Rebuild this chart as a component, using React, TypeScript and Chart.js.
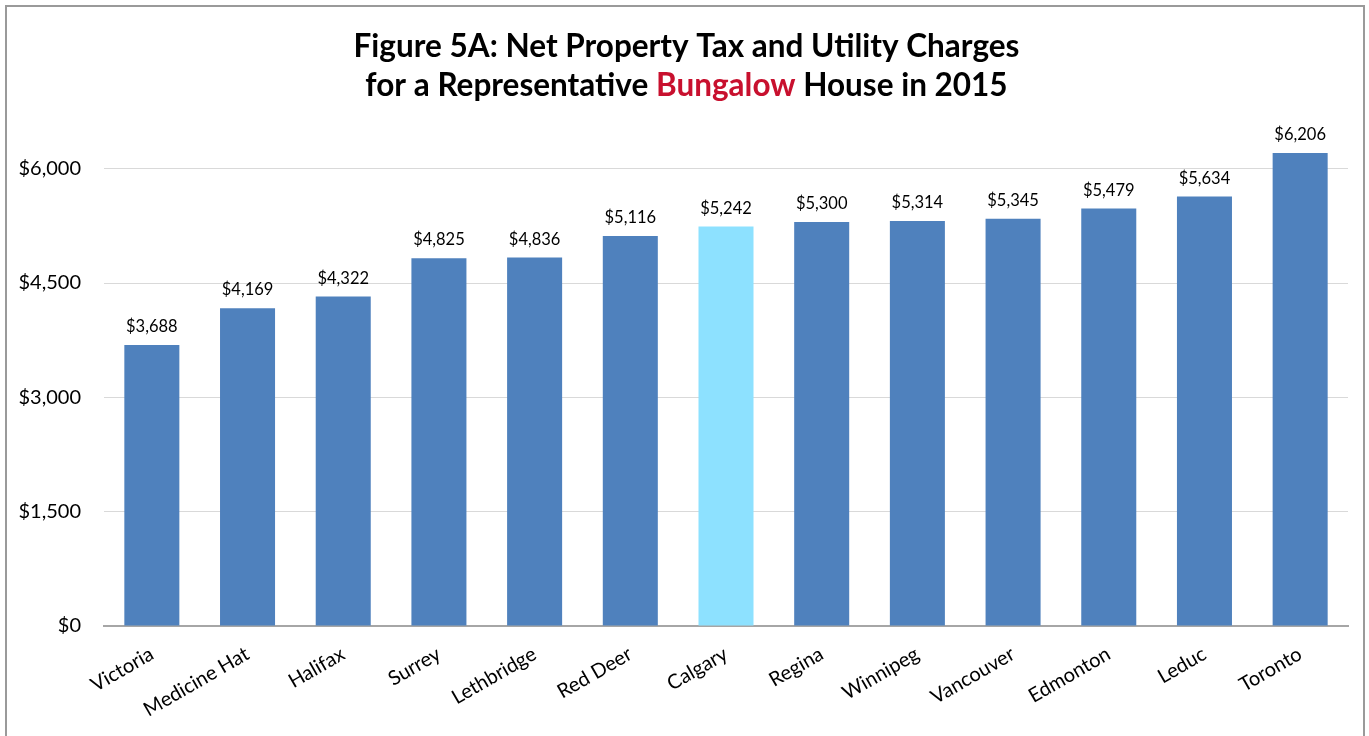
import React, { useEffect, useRef } from "react";
import { Chart, registerables } from "chart.js";

Chart.register(...registerables);

const cities = ["Victoria", "Medicine Hat", "Halifax", "Surrey", "Lethbridge", "Red Deer", "Calgary", "Regina", "Winnipeg", "Vancouver", "Edmonton", "Leduc", "Toronto"];
const charges = [3688, 4169, 4322, 4825, 4836, 5116, 5242, 5300, 5314, 5345, 5479, 5634, 6206];
const highlightCity = "Calgary";
const titleLine1 = "Figure 5A: Net Property Tax and Utility Charges";
const titleLine2 = ["for a Representative ", "Bungalow", " House in 2015"];
const yTicks = [0, 1500, 3000, 4500, 6000];

const FONT = "Lato, 'Open Sans', sans-serif";
const fmt = (v: number) => "$" + v.toLocaleString("en-US");

const decorPlugin = {
  id: "decor",
  afterDraw(chart: any) {
    const ctx = chart.ctx;
    ctx.save();
    // frame
    ctx.strokeStyle = "#9a9a9a";
    ctx.lineWidth = 2;
    ctx.strokeRect(6, 6, 1358, 760);
    // title
    const cx = 686.5;
    ctx.font = `bold 31.5px ${FONT}`;
    ctx.textBaseline = "alphabetic";
    ctx.textAlign = "left";
    ctx.fillStyle = "#000";
    const w1 = ctx.measureText(titleLine1).width;
    ctx.fillText(titleLine1, cx - w1 / 2, 57);
    const widths = titleLine2.map((s) => ctx.measureText(s).width);
    let x = cx - widths.reduce((a, b) => a + b, 0) / 2;
    titleLine2.forEach((s, i) => {
      ctx.fillStyle = i === 1 ? "#C8102E" : "#000";
      ctx.fillText(s, x, 96);
      x += widths[i];
    });
    // value labels
    const meta = chart.getDatasetMeta(0);
    ctx.font = `16.5px ${FONT}`;
    ctx.fillStyle = "#000";
    ctx.textAlign = "center";
    ctx.textBaseline = "bottom";
    meta.data.forEach((bar: any, i: number) => {
      ctx.fillText(fmt(charges[i]), bar.x, bar.y - 10);
    });
    ctx.restore();
  },
};

export default function App() {
  const ref = useRef<HTMLCanvasElement>(null);
  useEffect(() => {
    document.body.style.margin = "0";
    const chart = new Chart(ref.current!, {
      type: "bar",
      data: {
        labels: cities,
        datasets: [
          {
            data: charges,
            backgroundColor: cities.map((c) => (c === highlightCity ? "#8DE1FF" : "#4F81BD")),
            barPercentage: 0.575,
            categoryPercentage: 1,
          },
        ],
      },
      options: {
        animation: false,
        responsive: false,
        layout: { padding: { top: 123, right: 21, left: 0, bottom: 0 } },
        plugins: { legend: { display: false }, tooltip: { enabled: false }, title: { display: false } },
        scales: {
          x: {
            grid: { display: false, drawTicks: false },
            border: { display: true, color: "#a6a6a6", width: 2 },
            ticks: {
              color: "#000",
              font: { family: FONT, size: 20 },
              minRotation: 30,
              maxRotation: 30,
              padding: 16,
              autoSkip: false,
            },
            afterFit: (s: any) => {
              s.height = 110;
            },
          },
          y: {
            min: 0,
            max: 6600,
            grid: { color: "#d9d9d9", drawTicks: false },
            border: { display: false },
            afterBuildTicks: (s: any) => {
              s.ticks = yTicks.map((v) => ({ value: v }));
            },
            ticks: {
              color: "#000",
              font: { family: FONT, size: 20 },
              padding: 23,
              callback: (v: any) => fmt(Number(v)),
            },
            afterFit: (s: any) => {
              s.width = 104;
            },
          },
        },
      },
      plugins: [decorPlugin],
    });
    return () => chart.destroy();
  }, []);
  return (
    <div style={{ width: 1369, height: 736, position: "relative", background: "#fff" }}>
      <canvas ref={ref} width={1369} height={736} style={{ display: "block" }} />
    </div>
  );
}
